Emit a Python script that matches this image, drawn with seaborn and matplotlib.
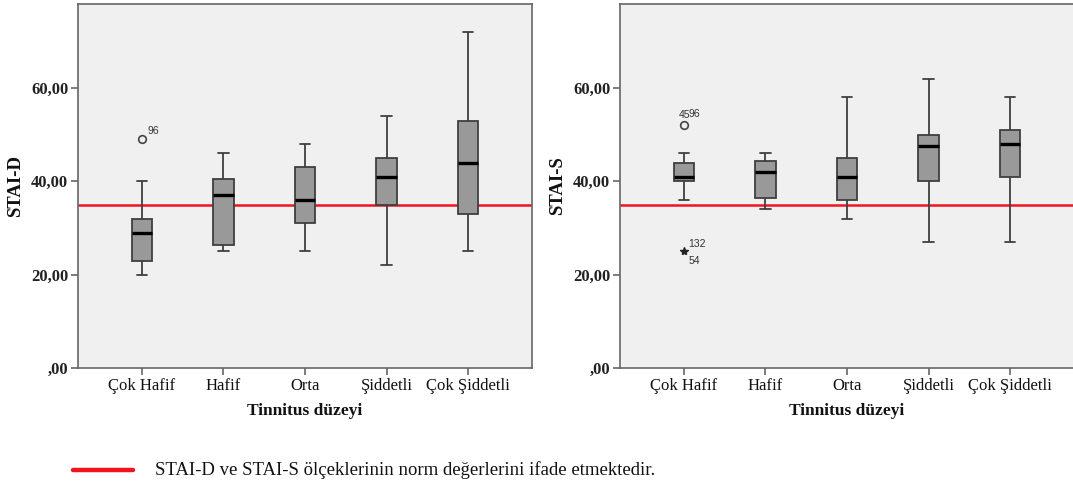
import numpy as np
import pandas as pd
import matplotlib
matplotlib.use("Agg")
import matplotlib.pyplot as plt
import seaborn as sns

# Tinnitus severity groups
levels = ["Çok Hafif", "Hafif", "Orta", "Şiddetli", "Çok Şiddetli"]

# Five-number summaries per group: whisker low, Q1, median, Q3, whisker high
stai_d_low = [20, 25, 25, 22, 25]
stai_d_q1 = [23, 26.4, 31, 35, 33]
stai_d_med = [29, 37, 36, 41, 44]
stai_d_q3 = [32, 40.4, 43, 45, 53]
stai_d_high = [40, 46, 48, 54, 72]

stai_s_low = [36, 34, 32, 27, 27]
stai_s_q1 = [40, 36.4, 36, 40, 41]
stai_s_med = [41, 42, 41, 47.5, 48]
stai_s_q3 = [44, 44.4, 45, 50, 51]
stai_s_high = [46, 46, 58, 62, 58]

# Outlying cases (group, value, case labels)
stai_d_outliers = [("Çok Hafif", 49, ["96"])]
stai_s_outliers = [("Çok Hafif", 52, ["45", "96"])]
stai_s_extremes = [("Çok Hafif", 25, ["132", "54"])]

norm_value = 35
y_ticks = [0, 20, 40, 60]
y_tick_labels = [",00", "20,00", "40,00", "60,00"]

legend_text = "STAI-D ve STAI-S ölçeklerinin norm değerlerini ifade etmektedir."

BG = "#f0f0f0"
BOX = "#999999"
EDGE = "#3f3f3f"
SPINE = "#666666"
RED = "#f0141e"

sns.set_theme(style="white", rc={"axes.facecolor": BG})
plt.rcParams["font.family"] = ["Liberation Serif", "DejaVu Serif"]


def long_table(low, q1, med, q3, high):
    rows = []
    for i, lev in enumerate(levels):
        for v in (low[i], q1[i], med[i], q3[i], high[i]):
            rows.append({"level": lev, "value": v})
    return pd.DataFrame(rows)


fig = plt.figure(figsize=(10.73, 4.86), dpi=100)
ax_d = fig.add_axes([78 / 1073, 118 / 486, 454 / 1073, 364 / 486])
ax_s = fig.add_axes([620 / 1073, 118 / 486, 454 / 1073, 364 / 486])

panels = [
    (ax_d, long_table(stai_d_low, stai_d_q1, stai_d_med, stai_d_q3, stai_d_high),
     "STAI-D", stai_d_outliers, []),
    (ax_s, long_table(stai_s_low, stai_s_q1, stai_s_med, stai_s_q3, stai_s_high),
     "STAI-S", stai_s_outliers, stai_s_extremes),
]

label_font = dict(fontsize=7.5, family="Liberation Sans", color="#333333")

for ax, df, ylabel, outl, extr in panels:
    ax.set_facecolor(BG)
    ax.axhline(norm_value, color=RED, lw=1.8, zorder=1)
    sns.boxplot(
        data=df, x="level", y="value", order=levels, ax=ax,
        width=0.25, whis=(0, 100), color=BOX, linecolor=EDGE, linewidth=1.3,
        saturation=1, showfliers=False,
        medianprops={"color": "black", "linewidth": 2.4},
        boxprops={"zorder": 2}, whiskerprops={"zorder": 2}, capprops={"zorder": 2},
    )
    # Outliers (circles) and extremes (stars) with case numbers
    for lev, val, labels in outl:
        xi = levels.index(lev)
        ax.plot(xi, val, marker="o", ms=5.5, mfc="none", mec="#444444", mew=1.2, zorder=4)
        if len(labels) == 1:
            ax.annotate(labels[0], (xi, val), xytext=(4, 4), textcoords="offset points",
                        **label_font)
        else:
            ax.annotate(labels[0], (xi, val), xytext=(-4, 5), textcoords="offset points",
                        **label_font)
            ax.annotate(labels[1], (xi, val), xytext=(3.5, 6), textcoords="offset points",
                        **label_font)
    for lev, val, labels in extr:
        xi = levels.index(lev)
        ax.plot(xi, val, marker="*", ms=6, color="#222222", zorder=4)
        ax.annotate(labels[0], (xi, val), xytext=(3, 3), textcoords="offset points",
                    **label_font)
        ax.annotate(labels[1], (xi, val), xytext=(3, -9), textcoords="offset points",
                    **label_font)

    ax.set_xlim(-0.785, 4.785)
    ax.set_ylim(0, 78)
    ax.set_yticks(y_ticks)
    ax.set_yticklabels(y_tick_labels, fontsize=12, fontweight="bold", color="#222222")
    ax.set_xticks(range(len(levels)))
    ax.set_xticklabels(levels, fontsize=12, color="#111111")
    ax.tick_params(axis="both", direction="out", length=5, width=1.2, color=SPINE,
                   pad=2, left=True, bottom=True)
    ax.set_xlabel("Tinnitus düzeyi", fontsize=12.5, fontweight="bold", labelpad=7,
                  color="#111111")
    ax.set_ylabel(ylabel, fontsize=13.5, fontweight="bold", labelpad=5, color="#111111")
    for sp in ax.spines.values():
        sp.set_color(SPINE)
        sp.set_linewidth(1.2)
        sp.set_visible(True)

# Legend explaining the red reference line
fig.add_artist(plt.Line2D([73 / 1073, 133 / 1073], [16 / 486, 16 / 486],
                          color=RED, lw=3.2, transform=fig.transFigure))
fig.text(155 / 1073, 16 / 486, legend_text, fontsize=13.5, va="center", ha="left",
         color="#111111")

fig.savefig("out.png", dpi=100, facecolor="white")
